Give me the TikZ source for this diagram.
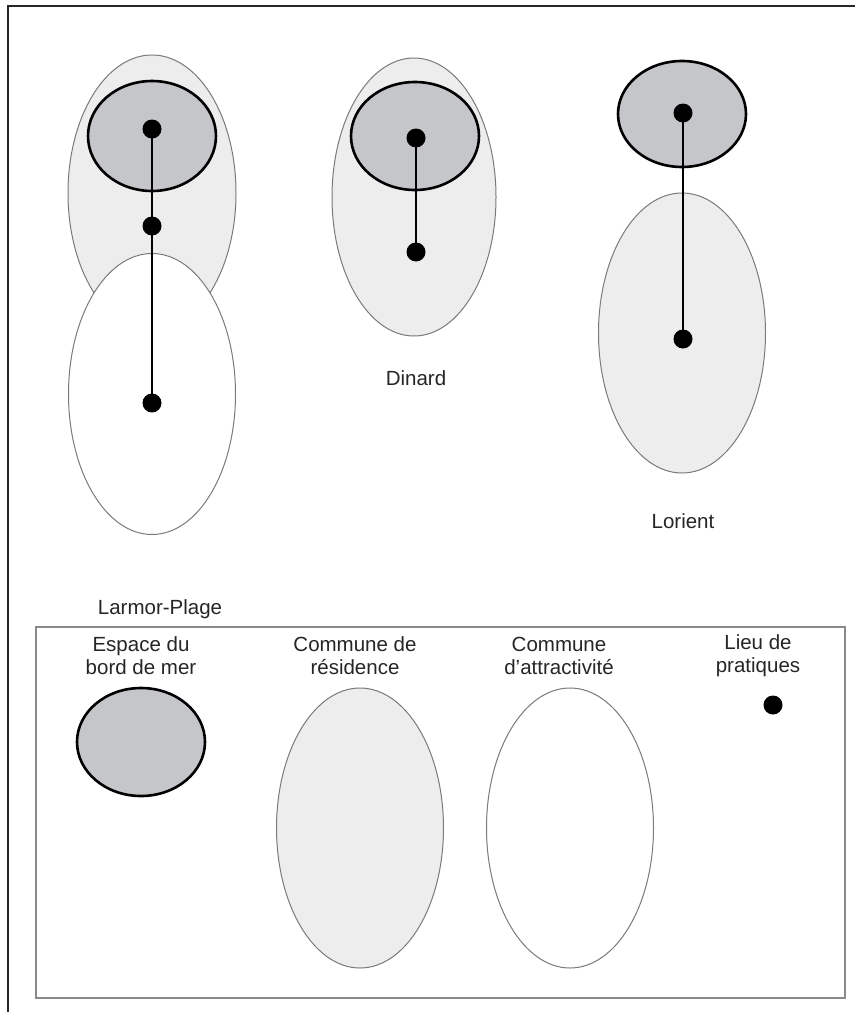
\documentclass[tikz,border=0pt]{standalone}
\usepackage{fontspec}
\setmainfont{Liberation Sans}
\usetikzlibrary{shapes.geometric}
\definecolor{lightfill}{HTML}{EDEDED}
\definecolor{seafill}{HTML}{C4C6CA}
\definecolor{thinedge}{HTML}{7A7A7A}
\definecolor{boxedge}{HTML}{8A8A8A}
\tikzset{
  resell/.style={ellipse, draw=thinedge, line width=1pt, fill=lightfill, inner sep=0pt},
  attrell/.style={ellipse, draw=thinedge, line width=1pt, fill=white, inner sep=0pt},
  seaell/.style={ellipse, draw=black, line width=2.6pt, fill=seafill, inner sep=0pt},
  spot/.style={circle, fill=black, draw=none, minimum size=19pt, inner sep=0pt},
  link/.style={draw=black, line width=2.3pt},
  lab/.style={font=\fontsize{20.5}{23}\selectfont, text=black!85, inner sep=0pt, align=center},
}
\begin{document}
\begin{tikzpicture}[x=1pt,y=-1pt]
\useasboundingbox (0,0) rectangle (855,1012);
\fill[white] (0,0) rectangle (855,1012);
% outer frame (only top and left edges visible)
\coordinate (frameTR) at (855,6);
\coordinate (frameTL) at (8,6);
\coordinate (frameBL) at (8,1012);
\draw[black!85, line width=2pt] (frameTR) -- (frameTL) -- (frameBL);

% Larmor-Plage
\node[resell, minimum width=168pt, minimum height=276pt] (LPres) at (152,193) {};
\node[attrell, minimum width=167pt, minimum height=281pt] (LPattr) at (152,394) {};
\node[seaell, minimum width=128pt, minimum height=110pt] (LPsea) at (152,136) {};
\node[spot] (LPd1) at (152,129) {};
\node[spot] (LPd2) at (152,226) {};
\node[spot] (LPd3) at (152,403) {};
\draw[link] (LPd1.center) -- (LPd2.center);
\draw[link] (LPd2.center) -- (LPd3.center);
\node[lab] (LPlab) at (160,609) {Larmor-Plage};

% Dinard
\node[resell, minimum width=164pt, minimum height=278pt] (DIres) at (414,197) {};
\node[seaell, minimum width=128pt, minimum height=108pt] (DIsea) at (415,136) {};
\node[spot] (DId1) at (416,138) {};
\node[spot] (DId2) at (416,252) {};
\draw[link] (DId1.center) -- (DId2.center);
\node[lab] (DIlab) at (416,378) {Dinard};

% Lorient
\node[seaell, minimum width=128pt, minimum height=106pt] (LOsea) at (682,114) {};
\node[resell, minimum width=167pt, minimum height=280pt] (LOres) at (682,333) {};
\node[spot] (LOd1) at (683,113) {};
\node[spot] (LOd2) at (683,339) {};
\draw[link] (LOd1.center) -- (LOd2.center);
\node[lab] (LOlab) at (683,521) {Lorient};

% Legend
\node[draw=boxedge, line width=1.6pt, minimum width=809pt, minimum height=371pt, inner sep=0pt] (legend) at (440.5,812.5) {};
\node[lab] (Lsea) at (141,656) {Espace du\\bord de mer};
\node[lab] (Lres) at (355,656) {Commune de\\résidence};
\node[lab] (Lattr) at (559,656) {Commune\\d'attractivité};
\node[lab] (Lspot) at (758,656) {Lieu de\\pratiques};
\node[seaell, minimum width=128pt, minimum height=108pt] (Ksea) at (141,742) {};
\node[resell, minimum width=167pt, minimum height=280pt] (Kres) at (360,828) {};
\node[attrell, minimum width=167pt, minimum height=280pt] (Kattr) at (570,828) {};
\node[spot] (Kspot) at (773,705) {};
\end{tikzpicture}
\end{document}
